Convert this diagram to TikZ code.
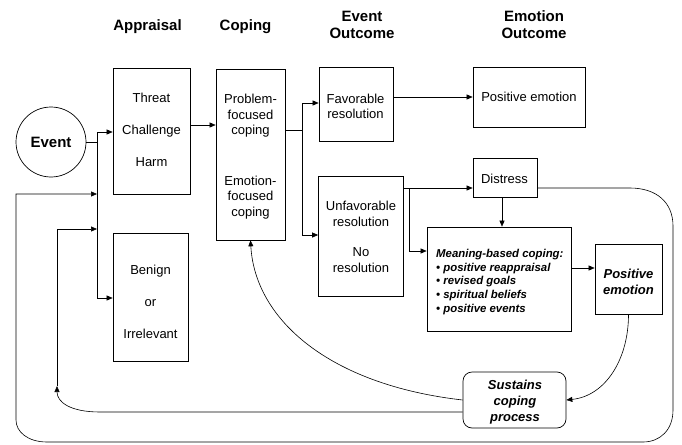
\documentclass[tikz,border=0pt]{standalone}
\usepackage{fontspec}
\setmainfont{Liberation Sans}
\usetikzlibrary{arrows.meta,calc}
\begin{document}
\begin{tikzpicture}[x=1pt,y=-1pt,
  box/.style={draw,line width=0.7pt,inner sep=0pt},
  hd/.style={font=\fontsize{15}{17}\selectfont\bfseries,anchor=base,inner sep=0pt},
  tx/.style={font=\fontsize{13}{15}\selectfont,anchor=base,inner sep=0pt},
  bi/.style={font=\fontsize{13}{15}\selectfont\bfseries\itshape,anchor=base,inner sep=0pt},
  mb/.style={font=\fontsize{11.4}{13}\selectfont\bfseries\itshape,anchor=base west,inner sep=0pt},
  con/.style={line width=0.6pt},
  arr/.style={con,-{Triangle[length=6pt,width=5pt]}}]
\useasboundingbox (0,0) rectangle (682,444);

% headers
\node[hd] (hApp) at (147.5,30.5) {Appraisal};
\node[hd] (hCop) at (245.5,30.5) {Coping};
\node[hd] (hEv1) at (362,21.5) {Event};
\node[hd] (hEv2) at (362,38.5) {Outcome};
\node[hd] (hEm1) at (534,21.5) {Emotion};
\node[hd] (hEm2) at (534,38.5) {Outcome};

% event
\node[draw,circle,line width=0.7pt,minimum size=70pt,inner sep=0pt,font=\fontsize{15}{17}\selectfont\bfseries] (event) at (51,142) {Event};

% boxes
\node[box,minimum width=77pt,minimum height=126pt] (threat) at (151.5,131) {};
\node[box,minimum width=75pt,minimum height=128pt] (benign) at (150.5,297) {};
\node[box,minimum width=69pt,minimum height=171pt] (coping) at (250.5,154.5) {};
\node[box,minimum width=74pt,minimum height=74pt] (fav) at (356,104) {};
\node[box,minimum width=85pt,minimum height=120pt] (unfav) at (361,236) {};
\node[box,minimum width=112pt,minimum height=60pt] (pe) at (529,97) {};
\node[box,minimum width=64pt,minimum height=39pt] (dis) at (505,177.5) {};
\node[box,minimum width=144pt,minimum height=104pt] (mean) at (499,279) {};
\node[box,minimum width=67pt,minimum height=70pt] (pe2) at (628.5,279) {};
\node[box,rounded corners=9pt,minimum width=103pt,minimum height=56pt] (sus) at (514.5,400) {};

% texts
\node[tx] (t1) at (151.5,102) {Threat};
\node[tx] (t2) at (151.5,134) {Challenge};
\node[tx] (t3) at (151.5,166) {Harm};
\node[tx] (b1) at (150.5,274) {Benign};
\node[tx] (b2) at (150.5,306) {or};
\node[tx] (b3) at (150.5,338) {Irrelevant};
\node[tx] (c1) at (250.5,103) {Problem-};
\node[tx] (c2) at (250.5,119) {focused};
\node[tx] (c3) at (250.5,134.5) {coping};
\node[tx] (c4) at (250.5,185) {Emotion-};
\node[tx] (c5) at (250.5,200.5) {focused};
\node[tx] (c6) at (250.5,216) {coping};
\node[tx] (f1) at (355.5,103) {Favorable};
\node[tx] (f2) at (355.5,118) {resolution};
\node[tx] (u1t) at (361,210) {Unfavorable};
\node[tx] (u2t) at (361,226) {resolution};
\node[tx] (u3t) at (361,256) {No};
\node[tx] (u4t) at (361,272) {resolution};
\node[tx] (pet) at (529,101.5) {Positive emotion};
\node[tx] (dist) at (504.5,183) {Distress};
\node[mb] (m1) at (436,257) {Meaning-based coping:};
\node[mb] (m2) at (436,271) {• positive reappraisal};
\node[mb] (m3) at (436,284) {• revised goals};
\node[mb] (m4) at (436,298) {• spiritual beliefs};
\node[mb] (m5) at (436,312) {• positive events};
\node[bi] (p1) at (628.5,278) {Positive};
\node[bi] (p2) at (628.5,294) {emotion};
\node[bi] (s1) at (515,389) {Sustains};
\node[bi] (s2) at (515,405) {coping};
\node[bi] (s3) at (515,421) {process};

% helper coordinates
\coordinate (j1) at (97,142);
\coordinate (vTop) at (97,132);
\coordinate (vBot) at (97,298);
\coordinate (y125) at (0,125);
\coordinate (k1) at (302,130);
\coordinate (kTop) at (302,103);
\coordinate (kBot) at (302,235);
\coordinate (uA) at (409,188);
\coordinate (uB) at (409,251);
\coordinate (x502) at (502,0);
\coordinate (y268) at (0,268);
\coordinate (y412) at (0,412);
\coordinate (inTip) at (57,386);
\coordinate (inTop) at (57,229);
\coordinate (inEnd) at (97,229);
\coordinate (outEnd) at (97,194);

% connectors
\draw[con] (event.east) -- (j1);
\draw[con] (vTop) -- (vBot);
\draw[arr] (vTop) -- (vTop -| threat.west);
\draw[arr] (vBot) -- (vBot -| benign.west);
\draw[arr] (threat.east |- y125) -- (coping.west |- y125);
\draw[con] (coping.east |- k1) -- (k1);
\draw[con] (kTop) -- (kBot);
\draw[arr] (kTop) -- (kTop -| fav.west);
\draw[arr] (kBot) -- (kBot -| unfav.west);
\draw[arr] (pe.west -| fav.east) -- (pe.west);
\draw[arr] (unfav.east |- uA) -- (dis.west |- uA);
\draw[con] (uA) -- (uB);
\draw[arr] (uB) -- (uB -| mean.west);
\draw[arr] (dis.south -| x502) -- (mean.north -| x502);
\draw[arr] (mean.east |- y268) -- (pe2.west |- y268);
\draw[arr] (pe2.south) .. controls (628.5,360) and (605,396) .. (sus.east);
\draw[arr] (sus.west) .. controls (330,385) and (255,320) .. (coping.south);
\draw[arr] (sus.west |- y412) -- (100,412) .. controls (70,412) and (57,402) .. (inTip);
\draw[arr] (inTip) -- (inTop) -- (inEnd);
\draw[arr] (dis.east |- uA) -- (630,188) .. controls (656,188) and (673,202) .. (673,226) -- (673,410) .. controls (673,430) and (660,442) .. (643,442) -- (47,442) .. controls (28,442) and (16,432) .. (16,420) -- (16,194) -- (outEnd);
\end{tikzpicture}
\end{document}
